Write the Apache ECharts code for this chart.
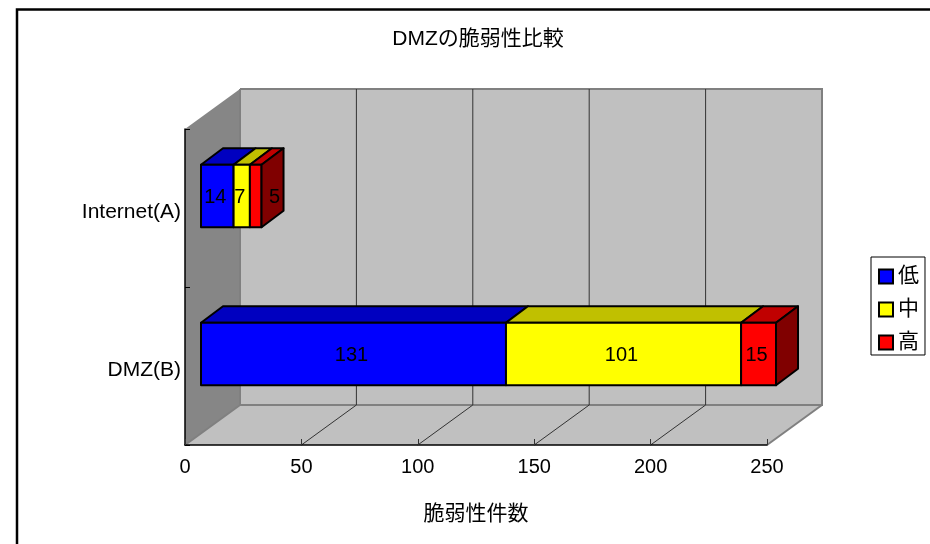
<!DOCTYPE html>
<html>
<head>
<meta charset="utf-8">
<style>html,body{margin:0;padding:0;background:#fff}#chart{width:930px;height:544px}</style>
<script src="https://cdn.jsdelivr.net/npm/echarts@6/dist/echarts.min.js"></script>
</head>
<body>
<div id="chart"></div>
<script>
// Vulnerability counts per network zone, by severity
const categories = ['DMZ(B)', 'Internet(A)'];
const severityNames = ['低', '中', '高'];
const lowCounts = [131, 14];
const midCounts = [101, 7];
const highCounts = [15, 5];
const xTicks = [0, 50, 100, 150, 200, 250];

const FONT = '"Liberation Sans","Noto Sans CJK JP",sans-serif';

// Oblique projection: offsets of the back wall and of the bar's front and back planes
const WALL_DX = 55, WALL_DY = -40;
const BAR_FRONT_DX = 16, BAR_FRONT_DY = -12;
const BAR_BACK_DX = 38, BAR_BACK_DY = -28.5;
const BAR_BAND_RATIO = 0.395;

const faces = [
  { front: '#0000ff', top: '#0000c0', side: '#000080' },
  { front: '#ffff00', top: '#c0c000', side: '#808000' },
  { front: '#ff0000', top: '#c00000', side: '#800000' }
];

function poly(points, fill, stroke, lineWidth) {
  return {
    type: 'polygon',
    shape: { points: points },
    style: { fill: fill, stroke: stroke || 'none', lineWidth: lineWidth || 0, lineJoin: 'round' }
  };
}

// Side wall, back wall, floor and the gridlines that run across floor and back wall
function renderRoom(params, api) {
  const cs = params.coordSys;
  const l = cs.x, r = cs.x + cs.width, t = cs.y, b = cs.y + cs.height;
  const dx = WALL_DX, dy = WALL_DY;
  const children = [
    poly([[l, t], [l + dx, t + dy], [l + dx, b + dy], [l, b]], '#868686'),
    poly([[l + dx, t + dy], [r + dx, t + dy], [r + dx, b + dy], [l + dx, b + dy]], '#c0c0c0'),
    poly([[l, b], [l + dx, b + dy], [r + dx, b + dy], [r, b]], '#c0c0c0')
  ];
  const edge = { stroke: '#808080', lineWidth: 2 };
  children.push(
    { type: 'polyline', shape: { points: [[l + dx, t + dy], [r + dx, t + dy], [r + dx, b + dy], [l + dx, b + dy], [l + dx, t + dy]] }, style: Object.assign({ fill: 'none' }, edge) },
    { type: 'line', shape: { x1: r + dx, y1: b + dy, x2: r, y2: b }, style: edge },
    { type: 'line', shape: { x1: l + dx, y1: b + dy, x2: l, y2: b }, style: edge }
  );
  xTicks.slice(1, -1).forEach(function (v) {
    const x = api.coord([v, 0])[0];
    children.push({
      type: 'polyline',
      shape: { points: [[x, b], [x + dx, b + dy], [x + dx, t + dy]] },
      style: { fill: 'none', stroke: '#333333', lineWidth: 1 }
    });
  });
  return { type: 'group', children: children };
}

// One stacked segment as a box: front, top and, for the last segment, the right side
function renderSegment(params, api) {
  const s = params.seriesIndex - 1;
  const start = api.value(0), end = api.value(1), cat = api.value(2);
  const p0 = api.coord([start, cat]);
  const p1 = api.coord([end, cat]);
  const h = api.size([0, 1])[1] * BAR_BAND_RATIO;
  const x0 = p0[0] + BAR_FRONT_DX, x1 = p1[0] + BAR_FRONT_DX;
  const yT = p0[1] - h / 2 + BAR_FRONT_DY, yB = p0[1] + h / 2 + BAR_FRONT_DY;
  const ddx = BAR_BACK_DX - BAR_FRONT_DX, ddy = BAR_BACK_DY - BAR_FRONT_DY;
  const c = faces[s];
  const line = '#000000';
  const children = [
    poly([[x0, yT], [x0 + ddx, yT + ddy], [x1 + ddx, yT + ddy], [x1, yT]], c.top, line, 2),
    poly([[x0, yT], [x1, yT], [x1, yB], [x0, yB]], c.front, line, 2)
  ];
  if (s === faces.length - 1) {
    children.push(poly([[x1, yT], [x1 + ddx, yT + ddy], [x1 + ddx, yB + ddy], [x1, yB]], c.side, line, 2));
  }
  // A segment too narrow for its number carries it on the side face
  const value = end - start;
  const narrow = x1 - x0 < 14;
  const labelX = narrow ? x1 + ddx / 2 + 2 : (x0 + x1) / 2 - 2;
  children.push({
    type: 'text',
    style: {
      x: labelX, y: (yT + yB) / 2 + 1, text: String(value),
      fill: '#000', font: '20px ' + FONT, align: 'center', verticalAlign: 'middle'
    }
  });
  return { type: 'group', children: children };
}

// Cumulative [start, end, category] triples for each severity
const layers = [lowCounts, midCounts, highCounts];
const running = categories.map(function () { return 0; });
const segmentSeries = layers.map(function (vals, s) {
  const rows = vals.map(function (v, i) {
    const row = [running[i], running[i] + v, i];
    running[i] += v;
    return row;
  });
  return {
    name: severityNames[s],
    type: 'custom',
    coordinateSystem: 'cartesian2d',
    renderItem: renderSegment,
    encode: { x: [0, 1], y: 2 },
    data: rows,
    z: 5,
    itemStyle: { color: faces[s].front },
    silent: true
  };
});

const chart = echarts.init(document.getElementById('chart'), null, { renderer: 'canvas' });
chart.setOption({
  animation: false,
  backgroundColor: '#ffffff',
  textStyle: { fontFamily: FONT },
  title: {
    text: 'DMZの脆弱性比較',
    left: 473, top: 24, textAlign: 'center',
    textStyle: { fontFamily: FONT, fontSize: 21, fontWeight: 'normal', color: '#000' }
  },
  graphic: [{
    type: 'rect', z: 0, silent: true,
    shape: { x: 17, y: 9.5, width: 1000, height: 1000 },
    style: { fill: 'none', stroke: '#000', lineWidth: 2.5 }
  }],
  legend: {
    orient: 'vertical',
    left: 871, top: 257,
    padding: [9, 6, 2, 7],
    itemWidth: 14, itemHeight: 14, itemGap: 12,
    borderColor: '#000', borderWidth: 1,
    icon: 'rect',
    itemStyle: { borderColor: '#000', borderWidth: 2 },
    textStyle: { fontFamily: FONT, fontSize: 21, color: '#000' },
    data: severityNames
  },
  grid: { left: 185, right: 163, top: 129, bottom: 99 },
  xAxis: {
    type: 'value', min: 0, max: 250, interval: 50, z: 4,
    name: '脆弱性件数', nameLocation: 'middle', nameGap: 59,
    nameTextStyle: { fontFamily: FONT, fontSize: 21, color: '#000' },
    axisLine: { show: true, lineStyle: { color: '#000', width: 1.5 } },
    axisTick: { show: true, inside: true, length: 6, lineStyle: { color: '#333' } },
    axisLabel: { fontFamily: FONT, fontSize: 20, color: '#000', margin: 12 },
    splitLine: { show: false }
  },
  yAxis: {
    type: 'category', data: categories, z: 4,
    axisLine: { show: true, lineStyle: { color: '#000', width: 1.5 } },
    axisTick: { show: true, inside: true, length: 5, lineStyle: { color: '#000' } },
    axisLabel: {
      color: '#000', margin: 4, align: 'right',
      formatter: '{name|{value}}',
      rich: { name: { fontFamily: FONT, fontSize: 21, color: '#000', padding: [9, 0, 0, 0] } }
    },
    splitLine: { show: false }
  },
  series: [{
    type: 'custom', coordinateSystem: 'cartesian2d', silent: true,
    renderItem: renderRoom, z: 1, data: [[0, 0]], encode: { x: 0, y: 1 }
  }].concat(segmentSeries)
});
</script>
</body>
</html>
